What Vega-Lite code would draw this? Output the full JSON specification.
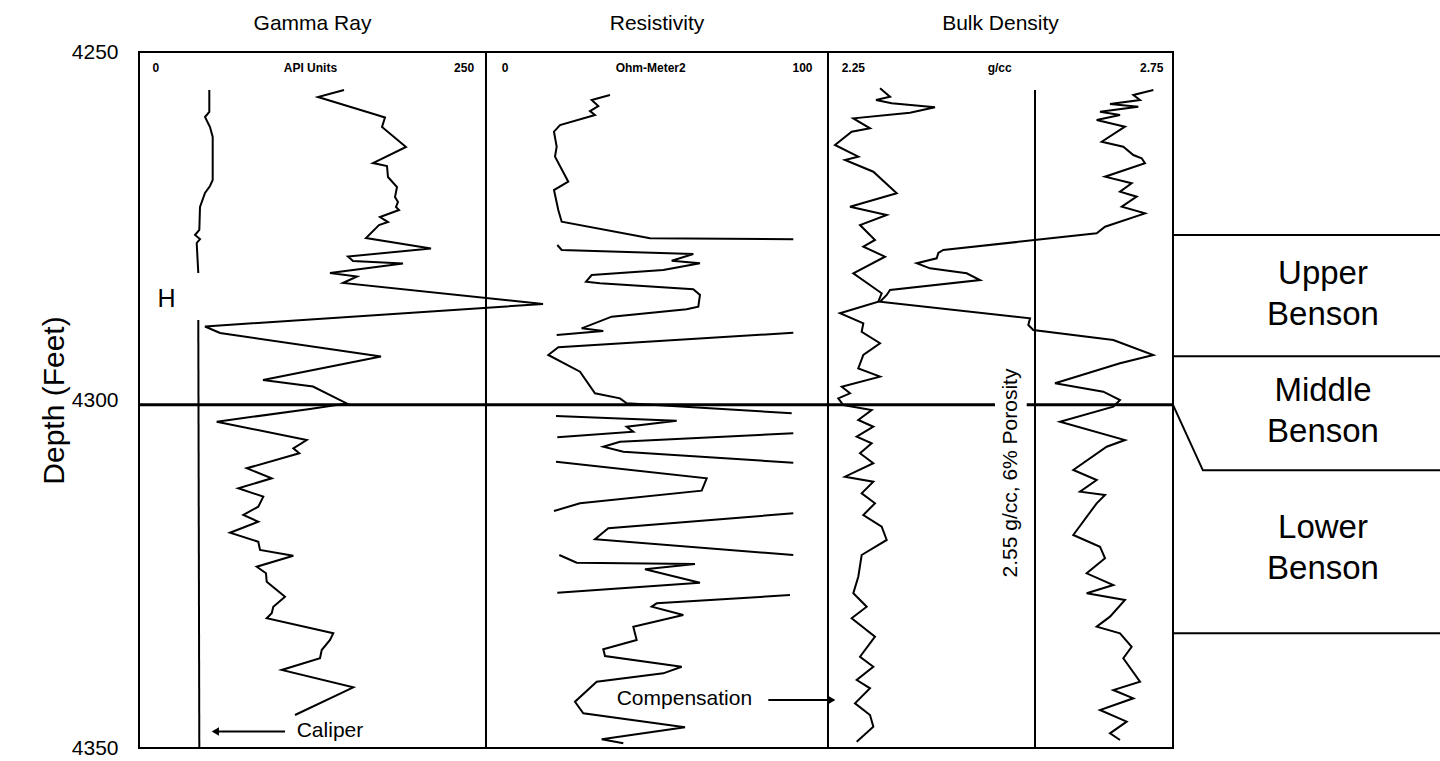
{
"$schema": "https://vega.github.io/schema/vega-lite/v6.json",
"width": 1301, "height": 696,
"autosize": {"type": "none"},
"padding": {"left": 139, "top": 52, "right": 0, "bottom": 13},
"background": "white",
"config": {"view": {"stroke": null}, "font": "Liberation Sans", "text": {"font": "Liberation Sans", "color": "black"}},
"datasets": {
"grFrame": [{"api": 0, "api2": 250, "depth": 4250, "depth2": 4350}],
"grRule": [{"api": 0, "api2": 250, "depth": 4300.7}],
"caliper": [
{"seg":"a","depth":4255.46,"api":50.65},{"seg":"a","depth":4258.62,"api":50.65},{"seg":"a","depth":4259.34,"api":47.55},{"seg":"a","depth":4260.78,"api":51.15},{"seg":"a","depth":4262.21,"api":53.1},{"seg":"a","depth":4268.39,"api":53.1},{"seg":"a","depth":4269.25,"api":51.15},{"seg":"a","depth":4270.26,"api":47.55},{"seg":"a","depth":4272.27,"api":43.95},{"seg":"a","depth":4275.57,"api":43.45},{"seg":"a","depth":4276.29,"api":40.35},{"seg":"a","depth":4276.87,"api":43.95},{"seg":"a","depth":4277.44,"api":41.57},{"seg":"a","depth":4281.75,"api":42.72},
{"seg":"b","depth":4288.51,"api":42.72},{"seg":"b","depth":4350,"api":43.45}],
"gammaRay": [
{"depth":4255.46,"api":147.7},{"depth":4256.47,"api":128.96},{"depth":4259.05,"api":171.47},{"depth":4259.41,"api":177.23},{"depth":4260.78,"api":175.08},{"depth":4263.65,"api":192.36},{"depth":4265.95,"api":168.59},{"depth":4266.38,"api":178.67},{"depth":4267.96,"api":179.39},{"depth":4269.4,"api":185.88},{"depth":4270.83,"api":184.44},{"depth":4271.55,"api":186.6},{"depth":4272.27,"api":185.16},{"depth":4272.7,"api":187.32},{"depth":4273.71,"api":173.63},{"depth":4274.43,"api":179.39},{"depth":4274.86,"api":172.91},{"depth":4276.72,"api":163.54},{"depth":4278.23,"api":210.37},{"depth":4279.38,"api":150.58},{"depth":4280.03,"api":154.18},{"depth":4280.39,"api":190.2},{"depth":4281.75,"api":137.61},{"depth":4282.26,"api":157.06},{"depth":4283.19,"api":146.97},{"depth":4286.21,"api":291.07},{"depth":4289.44,"api":47.55},{"depth":4290.37,"api":58.36},{"depth":4293.75,"api":174.35},{"depth":4297.13,"api":89.34},{"depth":4298.06,"api":125.36},{"depth":4300.5,"api":149.64},{"depth":4301.29,"api":123.2},{"depth":4303.12,"api":55.98},
{"depth":4305.75,"api":120.82},{"depth":4306.94,"api":111.17},{"depth":4307.66,"api":115.49},{"depth":4309.81,"api":77.6},{"depth":4311.25,"api":95.61},{"depth":4312.69,"api":71.54},{"depth":4313.89,"api":89.56},{"depth":4315.33,"api":85.95},{"depth":4316.52,"api":75.15},{"depth":4317.49,"api":85.95},{"depth":4319.07,"api":65.56},{"depth":4320.36,"api":85.95},{"depth":4321.55,"api":87.18},{"depth":4322.37,"api":111.17},{"depth":4323.95,"api":84.8},{"depth":4324.9,"api":91.5},{"depth":4326.11,"api":92.01},{"depth":4328.26,"api":105.19},{"depth":4329.7,"api":96.76},{"depth":4330.65,"api":95.61},{"depth":4331.36,"api":92.01},{"depth":4333.52,"api":139.99},{"depth":4334.48,"api":137.61},{"depth":4335.92,"api":131.63},{"depth":4337.11,"api":130.41},{"depth":4338.79,"api":102.81},{"depth":4341.28,"api":154.4},{"depth":4345.26,"api":112.39}],
"grArrow": [{"api": 105.19, "api2": 56, "depth": 4347.63}],
"grArrowHead": [{"api": 55.0, "depth": 4347.63}],
"grTitle": [{"api": 125, "depth": 4246.84, "label": "Gamma Ray"}],
"grScale": [{"api": 12.1, "depth": 4252.87, "label": "0"}, {"api": 123.5, "depth": 4252.87, "label": "API Units"}, {"api": 234.2, "depth": 4252.87, "label": "250"}],
"grH": [{"api": 19.8, "depth": 4286.64, "label": "H"}],
"grNote": [{"api": 113.62, "depth": 4348.46, "label": "Caliper"}],
"resFrame": [{"ohm": 0, "ohm2": 100, "depth": 4250, "depth2": 4350}],
"resRule": [{"ohm": 0, "ohm2": 100, "depth": 4300.7}],
"resistivity": [
{"seg":1,"depth":4256.18,"ohm":36.26},{"seg":1,"depth":4256.9,"ohm":30.91},{"seg":1,"depth":4257.76,"ohm":32.84},{"seg":1,"depth":4258.48,"ohm":30.41},{"seg":1,"depth":4259.05,"ohm":31.87},{"seg":1,"depth":4260.49,"ohm":21.64},{"seg":1,"depth":4261.45,"ohm":19.88},{"seg":1,"depth":4263.61,"ohm":20.67},{"seg":1,"depth":4265.04,"ohm":20.18},{"seg":1,"depth":4268.64,"ohm":24.06},{"seg":1,"depth":4269.83,"ohm":19.88},{"seg":1,"depth":4272.7,"ohm":21.14},{"seg":1,"depth":4274.38,"ohm":22.13},{"seg":1,"depth":4276.77,"ohm":47.95},{"seg":1,"depth":4276.91,"ohm":89.85},
{"seg":2,"depth":4277.73,"ohm":20.85},{"seg":2,"depth":4278.45,"ohm":22.13},{"seg":2,"depth":4279.02,"ohm":60.61},{"seg":2,"depth":4279.99,"ohm":54.3},{"seg":2,"depth":4280.36,"ohm":62.57},{"seg":2,"depth":4281.32,"ohm":51.84},{"seg":2,"depth":4282.04,"ohm":30.91},{"seg":2,"depth":4283.0,"ohm":29.24},{"seg":2,"depth":4283.23,"ohm":33.33},{"seg":2,"depth":4284.09,"ohm":60.61},{"seg":2,"depth":4284.91,"ohm":62.57},{"seg":2,"depth":4286.59,"ohm":62.08},{"seg":2,"depth":4286.97,"ohm":58.68},{"seg":2,"depth":4288.03,"ohm":36.75},{"seg":2,"depth":4289.7,"ohm":27.98},{"seg":2,"depth":4290.09,"ohm":34.3},{"seg":2,"depth":4290.66,"ohm":20.67},
{"seg":3,"depth":4290.33,"ohm":89.85},{"seg":3,"depth":4292.43,"ohm":21.14},{"seg":3,"depth":4293.53,"ohm":18.22},{"seg":3,"depth":4295.93,"ohm":27.49},{"seg":3,"depth":4299.04,"ohm":31.87},{"seg":3,"depth":4299.76,"ohm":39.18},{"seg":3,"depth":4300.47,"ohm":41.14},{"seg":3,"depth":4301.91,"ohm":89.39},
{"seg":4,"depth":4302.3,"ohm":20.47},{"seg":4,"depth":4302.97,"ohm":55.76},{"seg":4,"depth":4303.84,"ohm":41.14},{"seg":4,"depth":4304.55,"ohm":43.07},{"seg":4,"depth":4305.36,"ohm":20.85},
{"seg":5,"depth":4304.78,"ohm":89.85},{"seg":5,"depth":4305.99,"ohm":39.18},{"seg":5,"depth":4306.71,"ohm":34.3},{"seg":5,"depth":4307.43,"ohm":40.15},{"seg":5,"depth":4309.01,"ohm":89.85},
{"seg":6,"depth":4308.86,"ohm":20.47},{"seg":6,"depth":4311.25,"ohm":64.53},{"seg":6,"depth":4313.03,"ohm":63.07},{"seg":6,"depth":4314.84,"ohm":27.49},{"seg":6,"depth":4315.95,"ohm":19.88},
{"seg":7,"depth":4316.28,"ohm":89.85},{"seg":7,"depth":4318.43,"ohm":35.76},{"seg":7,"depth":4320.01,"ohm":31.87},{"seg":7,"depth":4322.27,"ohm":89.85},
{"seg":8,"depth":4322.27,"ohm":21.43},{"seg":8,"depth":4323.38,"ohm":26.52},{"seg":8,"depth":4323.56,"ohm":61.11},{"seg":8,"depth":4324.33,"ohm":46.49},{"seg":8,"depth":4326.25,"ohm":62.57},{"seg":8,"depth":4327.69,"ohm":20.85},
{"seg":9,"depth":4328.02,"ohm":88.89},{"seg":9,"depth":4329.21,"ohm":49.91},{"seg":9,"depth":4329.7,"ohm":48.45},{"seg":9,"depth":4330.89,"ohm":57.69},{"seg":9,"depth":4332.57,"ohm":43.07},{"seg":9,"depth":4334.48,"ohm":44.06},{"seg":9,"depth":4335.82,"ohm":34.3},{"seg":9,"depth":4336.78,"ohm":34.8},{"seg":9,"depth":4338.32,"ohm":57.22},{"seg":9,"depth":4339.27,"ohm":51.84},{"seg":9,"depth":4340.47,"ohm":32.37},{"seg":9,"depth":4343.35,"ohm":26.02},{"seg":9,"depth":4345.01,"ohm":28.45},{"seg":9,"depth":4347.03,"ohm":58.19},{"seg":9,"depth":4348.75,"ohm":33.83},{"seg":9,"depth":4349.32,"ohm":40.15}],
"resArrow": [{"ohm": 82.55, "ohm2": 99.8, "depth": 4343.1}],
"resArrowHead": [{"ohm": 101.1, "depth": 4343.1}],
"resTitle": [{"ohm": 50, "depth": 4246.84, "label": "Resistivity"}],
"resScale": [{"ohm": 5.56, "depth": 4252.87, "label": "0"}, {"ohm": 48.16, "depth": 4252.87, "label": "Ohm-Meter2"}, {"ohm": 92.55, "depth": 4252.87, "label": "100"}],
"resNote": [{"ohm": 38.22, "depth": 4343.82, "label": "Compensation"}],
"denFrame": [{"den": 2.25, "den2": 2.75, "depth": 4250, "depth2": 4350}],
"denRule": [{"den": 2.25, "den2": 2.492, "depth": 4300.7}, {"den": 2.538, "den2": 2.75, "depth": 4300.7}],
"denCutoff": [{"den": 2.55, "depth": 4255.46, "depth2": 4350}],
"densityLeft": [
{"depth":4255.22,"den":2.3254},{"depth":4256.42,"den":2.3399},{"depth":4256.9,"den":2.3196},{"depth":4257.37,"den":2.3423},{"depth":4257.95,"den":2.4051},{"depth":4258.72,"den":2.3688},{"depth":4259.53,"den":2.2867},{"depth":4260.96,"den":2.3109},{"depth":4261.45,"den":2.2843},{"depth":4263.36,"den":2.2601},{"depth":4265.04,"den":2.2939},{"depth":4265.52,"den":2.2746},{"depth":4267.2,"den":2.3157},{"depth":4270.3,"den":2.3496},{"depth":4272.23,"den":2.2819},{"depth":4273.42,"den":2.3351},{"depth":4274.86,"den":2.2964},{"depth":4277.01,"den":2.3181},{"depth":4277.97,"den":2.3012},{"depth":4279.41,"den":2.3326},{"depth":4281.8,"den":2.2867},{"depth":4284.67,"den":2.3278},{"depth":4285.88,"den":2.3229},{"depth":4287.54,"den":2.2674},{"depth":4288.98,"den":2.3012},{"depth":4290.19,"den":2.2988},{"depth":4291.85,"den":2.3254},{"depth":4293.53,"den":2.3012},{"depth":4295.45,"den":2.2939},{"depth":4296.65,"den":2.3254},{"depth":4298.09,"den":2.2699},{"depth":4299.04,"den":2.2819},{"depth":4299.76,"den":2.2649},{"depth":4300.72,"den":2.2722},{"depth":4301.44,"den":2.3133},{"depth":4302.87,"den":2.2939},{"depth":4303.84,"den":2.3157},{"depth":4305.27,"den":2.2916},{"depth":4306.22,"den":2.3133},{"depth":4307.66,"den":2.2964},{"depth":4309.09,"den":2.3157},{"depth":4311.02,"den":2.2746},{"depth":4311.74,"den":2.3157},{"depth":4313.41,"den":2.2988},{"depth":4314.84,"den":2.3181},{"depth":4316.52,"den":2.3012},{"depth":4318.2,"den":2.3278},{"depth":4320.11,"den":2.3351},{"depth":4322.27,"den":2.2988},{"depth":4325.39,"den":2.2939},{"depth":4327.77,"den":2.2867},{"depth":4329.7,"den":2.3061},{"depth":4331.36,"den":2.2843},{"depth":4334.01,"den":2.3181},{"depth":4336.88,"den":2.2964},{"depth":4338.32,"den":2.3157},{"depth":4340.23,"den":2.2916},{"depth":4341.42,"den":2.3109},{"depth":4343.58,"den":2.2891},{"depth":4345.26,"den":2.3109},{"depth":4346.94,"den":2.3157},{"depth":4349.09,"den":2.2916}],
"densityRight": [
{"depth":4255.46,"den":2.7215},{"depth":4256.18,"den":2.6925},{"depth":4256.9,"den":2.7022},{"depth":4257.47,"den":2.6587},{"depth":4257.86,"den":2.6997},{"depth":4258.58,"den":2.6442},{"depth":4259.05,"den":2.6732},{"depth":4259.77,"den":2.6394},{"depth":4260.73,"den":2.6804},{"depth":4262.89,"den":2.6467},{"depth":4263.61,"den":2.678},{"depth":4264.8,"den":2.6925},{"depth":4265.27,"den":2.7046},{"depth":4265.99,"den":2.7094},{"depth":4267.92,"den":2.6515},{"depth":4268.86,"den":2.6901},{"depth":4270.07,"den":2.6732},{"depth":4270.79,"den":2.6974},{"depth":4272.23,"den":2.6757},{"depth":4273.18,"den":2.7094},{"depth":4275.1,"den":2.6515},{"depth":4276.05,"den":2.6394},{"depth":4278.45,"den":2.4171},{"depth":4278.88,"den":2.4099},{"depth":4279.64,"den":2.4075},{"depth":4280.36,"den":2.3786},{"depth":4281.08,"den":2.3978},{"depth":4281.8,"den":2.451},{"depth":4282.76,"den":2.4703},{"depth":4284.2,"den":2.3399},{"depth":4284.91,"den":2.3351},{"depth":4285.88,"den":2.3254},{"depth":4288.26,"den":2.5428},{"depth":4289.22,"den":2.5403},{"depth":4289.94,"den":2.5475},{"depth":4291.38,"den":2.6635},{"depth":4293.53,"den":2.7215},{"depth":4294.73,"den":2.6732},{"depth":4297.6,"den":2.579},{"depth":4298.81,"den":2.649},{"depth":4300.0,"den":2.6732},{"depth":4300.96,"den":2.6635},{"depth":4303.12,"den":2.5862},{"depth":4305.75,"den":2.6804},{"depth":4306.71,"den":2.6539},{"depth":4310.06,"den":2.6055},{"depth":4311.49,"den":2.6394},{"depth":4313.17,"den":2.6152},{"depth":4313.65,"den":2.6515},{"depth":4314.84,"den":2.6394},{"depth":4319.4,"den":2.6055},{"depth":4321.08,"den":2.6442},{"depth":4322.74,"den":2.6515},{"depth":4324.9,"den":2.6249},{"depth":4326.58,"den":2.6635},{"depth":4327.77,"den":2.6249},{"depth":4328.74,"den":2.6804},{"depth":4331.13,"den":2.6587},{"depth":4332.57,"den":2.6394},{"depth":4333.52,"den":2.6732},{"depth":4335.45,"den":2.6901},{"depth":4337.11,"den":2.678},{"depth":4340.47,"den":2.7022},{"depth":4341.67,"den":2.6635},{"depth":4342.86,"den":2.6925},{"depth":4344.54,"den":2.6442},{"depth":4346.22,"den":2.6829},{"depth":4347.89,"den":2.6587},{"depth":4348.85,"den":2.6732}],
"denTitle": [{"den": 2.5, "depth": 4246.84, "label": "Bulk Density"}],
"denScale": [{"den": 2.2867, "depth": 4252.87, "label": "2.25"}, {"den": 2.4988, "depth": 4252.87, "label": "g/cc"}, {"den": 2.7191, "depth": 4252.87, "label": "2.75"}],
"denNote": [{"den": 2.5152, "depth": 4310.49, "label": "2.55 g/cc, 6% Porosity"}],
"zoneLines": [
{"seg":"top","zx":0,"depth":4276.3},{"seg":"top","zx":1,"depth":4276.3},
{"seg":"um","zx":0,"depth":4293.7},{"seg":"um","zx":1,"depth":4293.7},
{"seg":"ml","zx":0,"depth":4300.7},{"seg":"ml","zx":0.112,"depth":4310.1},{"seg":"ml","zx":1,"depth":4310.1},
{"seg":"bot","zx":0,"depth":4333.5},{"seg":"bot","zx":1,"depth":4333.5}],
"zoneLabels": [
{"zx": 0.5618, "depth": 4281.87, "label": "Upper\nBenson"},
{"zx": 0.5618, "depth": 4298.71, "label": "Middle\nBenson"},
{"zx": 0.5618, "depth": 4318.39, "label": "Lower\nBenson"}]
},
"encoding": {
"y": {"field": "depth", "type": "quantitative",
"scale": {"domain": [4250, 4350], "reverse": true, "nice": false, "zero": false},
"axis": {"values": [4250, 4300, 4350], "format": "d", "domain": false, "ticks": false, "tickSize": 0, "grid": false,
"labelFontSize": 21, "labelPadding": 21, "labelColor": "black", "labelFont": "Liberation Sans",
"title": "Depth (Feet)", "titleFontSize": 30, "titleFontWeight": "normal", "titleColor": "black", "titleFont": "Liberation Sans", "titlePadding": 2}}
},
"layer": [
{
"encoding": {"x": {"field": "api", "type": "quantitative", "scale": {"domain": [0, 937.32], "nice": false, "zero": false}, "axis": null}},
"layer": [
{"data": {"name": "grFrame"}, "mark": {"type": "rect", "filled": false, "stroke": "black", "strokeWidth": 2}, "encoding": {"x2": {"field": "api2"}, "y2": {"field": "depth2"}}},
{"data": {"name": "grRule"}, "mark": {"type": "rule", "color": "black", "strokeWidth": 3}, "encoding": {"x2": {"field": "api2"}}},
{"data": {"name": "caliper"}, "mark": {"type": "line", "color": "black", "strokeWidth": 2}, "encoding": {"detail": {"field": "seg", "type": "nominal"}, "order": {"value": null}}},
{"data": {"name": "gammaRay"}, "mark": {"type": "line", "color": "black", "strokeWidth": 2}, "encoding": {"order": {"value": null}}},
{"data": {"name": "grArrow"}, "mark": {"type": "rule", "color": "black", "strokeWidth": 2}, "encoding": {"x2": {"field": "api2"}}},
{"data": {"name": "grArrowHead"}, "mark": {"type": "point", "shape": "triangle-left", "filled": true, "color": "black", "opacity": 1, "size": 70}},
{"data": {"name": "grTitle"}, "mark": {"type": "text", "fontSize": 21, "align": "center", "baseline": "alphabetic"}, "encoding": {"text": {"field": "label"}}},
{"data": {"name": "grScale"}, "mark": {"type": "text", "fontSize": 12, "fontWeight": "bold", "align": "center", "baseline": "alphabetic"}, "encoding": {"text": {"field": "label"}}},
{"data": {"name": "grH"}, "mark": {"type": "text", "fontSize": 25, "align": "center", "baseline": "alphabetic"}, "encoding": {"text": {"field": "label"}}},
{"data": {"name": "grNote"}, "mark": {"type": "text", "fontSize": 21, "align": "left", "baseline": "alphabetic"}, "encoding": {"text": {"field": "label"}}}
]
},
{
"encoding": {"x": {"field": "ohm", "type": "quantitative", "scale": {"domain": [-101.46, 278.95], "nice": false, "zero": false}, "axis": null}},
"layer": [
{"data": {"name": "resFrame"}, "mark": {"type": "rect", "filled": false, "stroke": "black", "strokeWidth": 2}, "encoding": {"x2": {"field": "ohm2"}, "y2": {"field": "depth2"}}},
{"data": {"name": "resRule"}, "mark": {"type": "rule", "color": "black", "strokeWidth": 3}, "encoding": {"x2": {"field": "ohm2"}}},
{"data": {"name": "resistivity"}, "mark": {"type": "line", "color": "black", "strokeWidth": 2}, "encoding": {"detail": {"field": "seg", "type": "nominal"}, "order": {"value": null}}},
{"data": {"name": "resArrow"}, "mark": {"type": "rule", "color": "black", "strokeWidth": 2}, "encoding": {"x2": {"field": "ohm2"}}},
{"data": {"name": "resArrowHead"}, "mark": {"type": "point", "shape": "triangle-right", "filled": true, "color": "black", "opacity": 1, "size": 70}},
{"data": {"name": "resTitle"}, "mark": {"type": "text", "fontSize": 21, "align": "center", "baseline": "alphabetic"}, "encoding": {"text": {"field": "label"}}},
{"data": {"name": "resScale"}, "mark": {"type": "text", "fontSize": 12, "fontWeight": "bold", "align": "center", "baseline": "alphabetic"}, "encoding": {"text": {"field": "label"}}},
{"data": {"name": "resNote"}, "mark": {"type": "text", "fontSize": 21, "align": "left", "baseline": "alphabetic"}, "encoding": {"text": {"field": "label"}}}
]
},
{
"encoding": {"x": {"field": "den", "type": "quantitative", "scale": {"domain": [1.25145, 3.13696], "nice": false, "zero": false}, "axis": null}},
"layer": [
{"data": {"name": "denFrame"}, "mark": {"type": "rect", "filled": false, "stroke": "black", "strokeWidth": 2}, "encoding": {"x2": {"field": "den2"}, "y2": {"field": "depth2"}}},
{"data": {"name": "denRule"}, "mark": {"type": "rule", "color": "black", "strokeWidth": 3}, "encoding": {"x2": {"field": "den2"}}},
{"data": {"name": "denCutoff"}, "mark": {"type": "rule", "color": "black", "strokeWidth": 2}, "encoding": {"y2": {"field": "depth2"}}},
{"data": {"name": "densityLeft"}, "mark": {"type": "line", "color": "black", "strokeWidth": 2}, "encoding": {"order": {"value": null}}},
{"data": {"name": "densityRight"}, "mark": {"type": "line", "color": "black", "strokeWidth": 2}, "encoding": {"order": {"value": null}}},
{"data": {"name": "denTitle"}, "mark": {"type": "text", "fontSize": 21, "align": "center", "baseline": "alphabetic"}, "encoding": {"text": {"field": "label"}}},
{"data": {"name": "denScale"}, "mark": {"type": "text", "fontSize": 12, "fontWeight": "bold", "align": "center", "baseline": "alphabetic"}, "encoding": {"text": {"field": "label"}}},
{"data": {"name": "denNote"}, "mark": {"type": "text", "fontSize": 21, "angle": 270, "align": "center", "baseline": "middle"}, "encoding": {"text": {"field": "label"}}}
]
},
{
"encoding": {"x": {"field": "zx", "type": "quantitative", "scale": {"domain": [-3.8727, 1], "nice": false, "zero": false}, "axis": null}},
"layer": [
{"data": {"name": "zoneLines"}, "mark": {"type": "line", "color": "black", "strokeWidth": 2}, "encoding": {"detail": {"field": "seg", "type": "nominal"}, "order": {"value": null}}},
{"data": {"name": "zoneLabels"}, "mark": {"type": "text", "fontSize": 33, "lineHeight": 41, "lineBreak": "\n", "align": "center", "baseline": "middle"}, "encoding": {"text": {"field": "label"}}}
]
}
],
"resolve": {"scale": {"x": "independent"}}
}
